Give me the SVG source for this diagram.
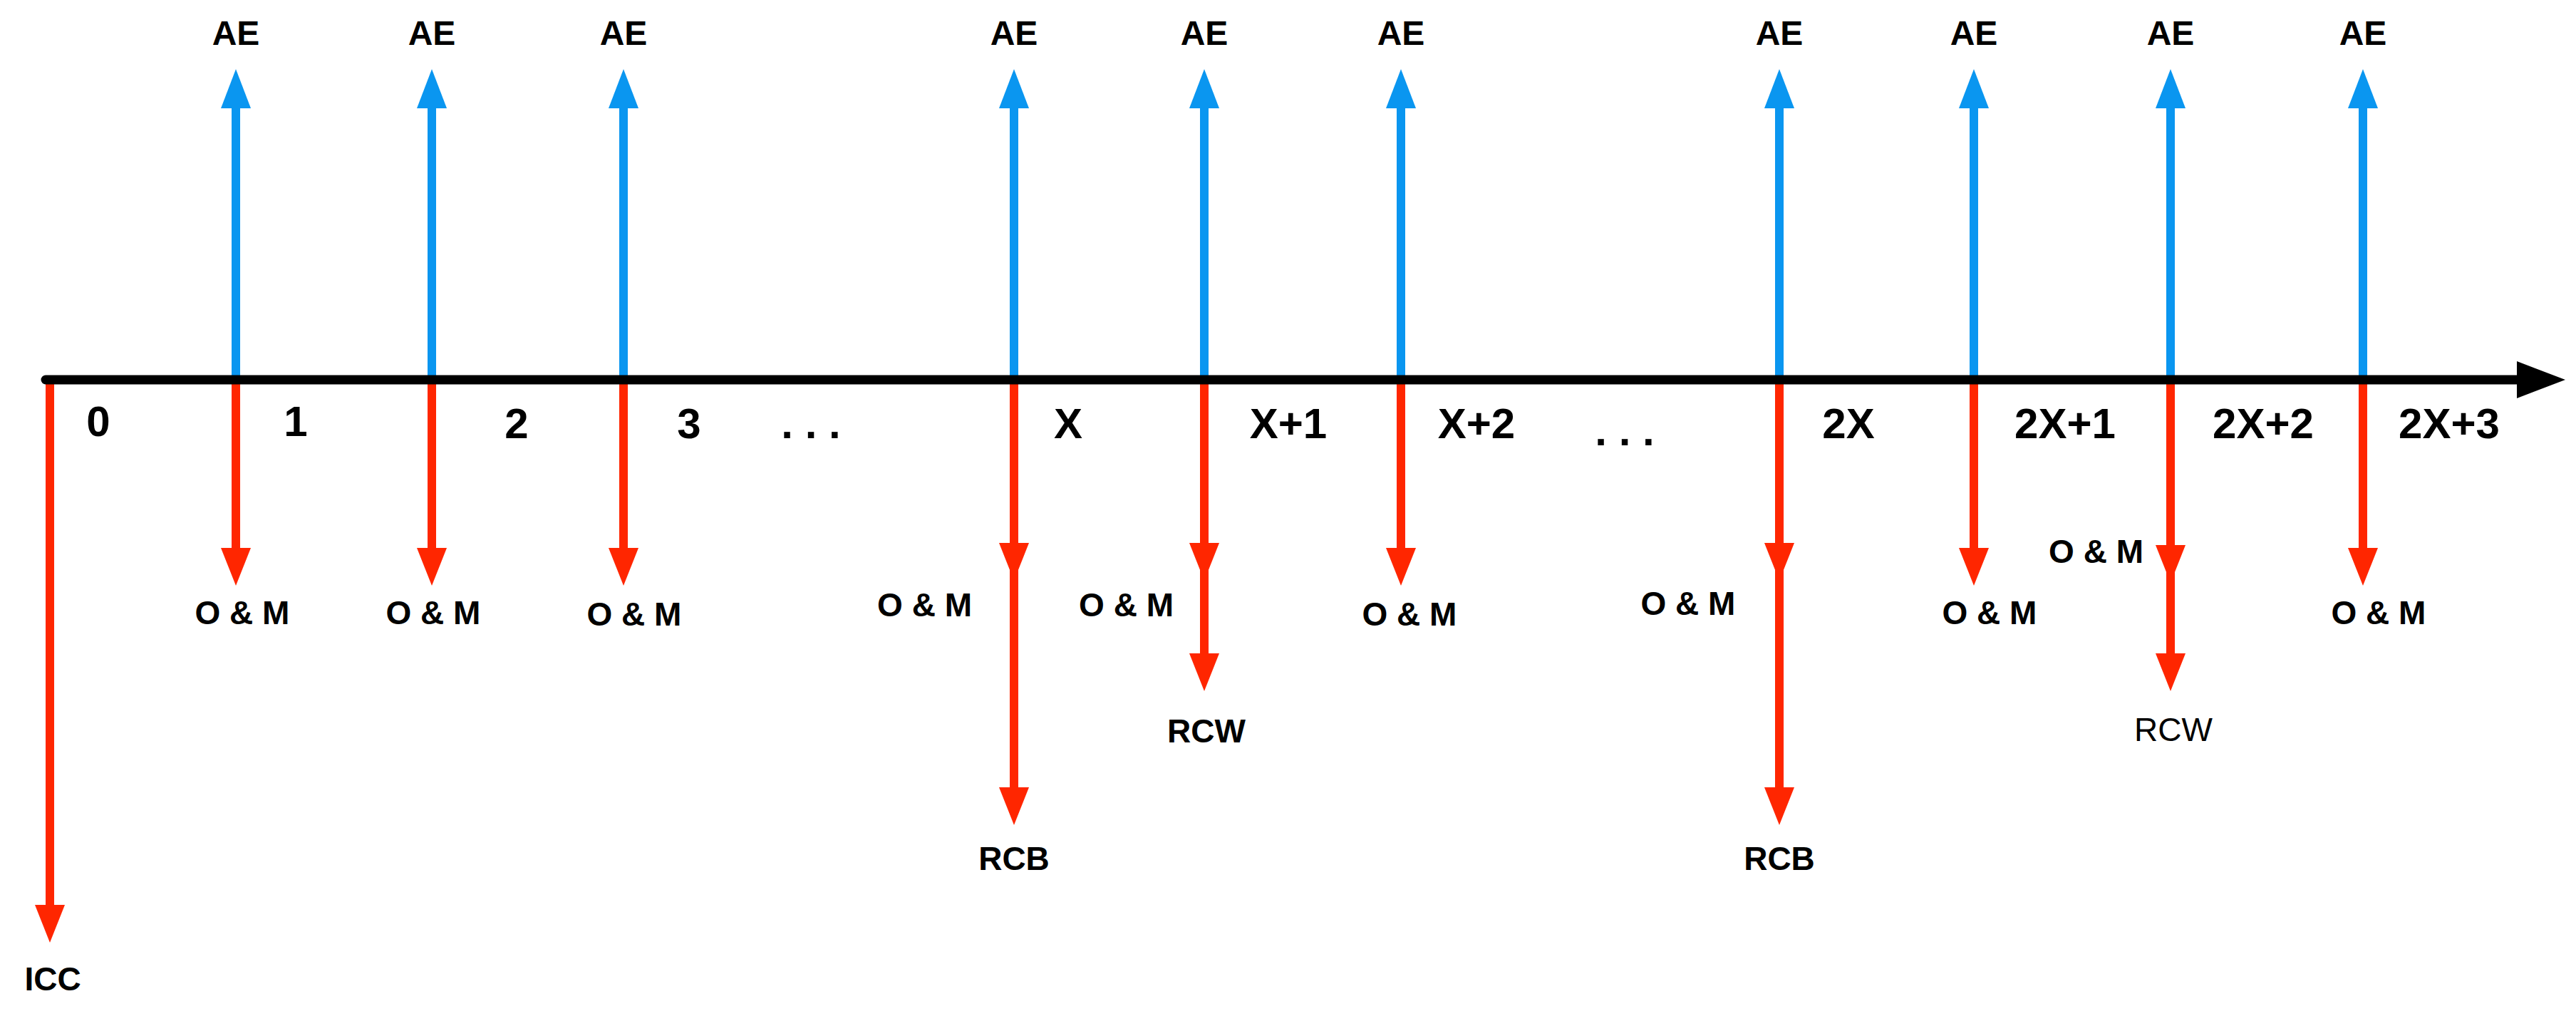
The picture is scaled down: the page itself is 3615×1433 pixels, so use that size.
<svg xmlns="http://www.w3.org/2000/svg" width="3615" height="1433" viewBox="0 0 3615 1433">
<style>
.t{font-family:"Liberation Sans",Arial,sans-serif;font-weight:bold;fill:#000}
.ae{font-size:48px;text-anchor:middle}
.om{font-size:46px}
.ax{font-size:60px;text-anchor:middle}
.r{stroke:#FF2600;stroke-width:12;fill:none}
.b{stroke:#0A96F0;stroke-width:12;fill:none}
.rh{fill:#FF2600}
.bh{fill:#0A96F0}
</style>
<defs>
<polygon id="up" points="-21,0 21,0 0,-55"/>
<polygon id="dn" points="-21,0 21,0 0,53"/>
</defs>
<rect width="3615" height="1433" fill="#fff"/>
<g id="connectors">
<!-- blue AE arrows -->
<g>
<line class="b" x1="331" y1="533" x2="331" y2="148"/>
<line class="b" x1="606" y1="533" x2="606" y2="148"/>
<line class="b" x1="875" y1="533" x2="875" y2="148"/>
<line class="b" x1="1423" y1="533" x2="1423" y2="148"/>
<line class="b" x1="1690" y1="533" x2="1690" y2="148"/>
<line class="b" x1="1966" y1="533" x2="1966" y2="148"/>
<line class="b" x1="2497" y1="533" x2="2497" y2="148"/>
<line class="b" x1="2770" y1="533" x2="2770" y2="148"/>
<line class="b" x1="3046" y1="533" x2="3046" y2="148"/>
<line class="b" x1="3316" y1="533" x2="3316" y2="148"/>
<use href="#up" class="bh" x="331" y="152"/>
<use href="#up" class="bh" x="606" y="152"/>
<use href="#up" class="bh" x="875" y="152"/>
<use href="#up" class="bh" x="1423" y="152"/>
<use href="#up" class="bh" x="1690" y="152"/>
<use href="#up" class="bh" x="1966" y="152"/>
<use href="#up" class="bh" x="2497" y="152"/>
<use href="#up" class="bh" x="2770" y="152"/>
<use href="#up" class="bh" x="3046" y="152"/>
<use href="#up" class="bh" x="3316" y="152"/>
</g>
<!-- red arrows -->
<g>
<line class="r" x1="70" y1="533" x2="70" y2="1275"/>
<use href="#dn" class="rh" x="70" y="1270"/>
<line class="r" x1="331" y1="533" x2="331" y2="772"/>
<use href="#dn" class="rh" x="331" y="769"/>
<line class="r" x1="606" y1="533" x2="606" y2="772"/>
<use href="#dn" class="rh" x="606" y="769"/>
<line class="r" x1="875" y1="533" x2="875" y2="772"/>
<use href="#dn" class="rh" x="875" y="769"/>
<line class="r" x1="1423" y1="533" x2="1423" y2="1108"/>
<use href="#dn" class="rh" x="1423" y="762"/>
<use href="#dn" class="rh" x="1423" y="1105"/>
<line class="r" x1="1690" y1="533" x2="1690" y2="920"/>
<use href="#dn" class="rh" x="1690" y="762"/>
<use href="#dn" class="rh" x="1690" y="917"/>
<line class="r" x1="1966" y1="533" x2="1966" y2="772"/>
<use href="#dn" class="rh" x="1966" y="769"/>
<line class="r" x1="2497" y1="533" x2="2497" y2="1108"/>
<use href="#dn" class="rh" x="2497" y="762"/>
<use href="#dn" class="rh" x="2497" y="1105"/>
<line class="r" x1="2770" y1="533" x2="2770" y2="772"/>
<use href="#dn" class="rh" x="2770" y="769"/>
<line class="r" x1="3046" y1="533" x2="3046" y2="920"/>
<use href="#dn" class="rh" x="3046" y="765"/>
<use href="#dn" class="rh" x="3046" y="917"/>
<line class="r" x1="3316" y1="533" x2="3316" y2="772"/>
<use href="#dn" class="rh" x="3316" y="769"/>
</g>
<!-- time axis -->
<g>
<line x1="64" y1="533" x2="3540" y2="533" stroke="#000" stroke-width="13" stroke-linecap="round"/>
<polygon points="3532,507 3600,533 3532,559" fill="#000"/>
</g>
</g>
<g id="ae-labels" class="t ae">
<text x="331" y="63">AE</text>
<text x="606" y="63">AE</text>
<text x="875" y="63">AE</text>
<text x="1423" y="63">AE</text>
<text x="1690" y="63">AE</text>
<text x="1966" y="63">AE</text>
<text x="2497" y="63">AE</text>
<text x="2770" y="63">AE</text>
<text x="3046" y="63">AE</text>
<text x="3316" y="63">AE</text>
</g>
<g id="axis-labels" class="t ax">
<text x="138" y="612">0</text>
<text x="415" y="612">1</text>
<text x="725" y="615">2</text>
<text x="967" y="615">3</text>
<text x="1138" y="615">. . .</text>
<text x="1499" y="615">X</text>
<text x="1808" y="615">X+1</text>
<text x="2072" y="615">X+2</text>
<text x="2280" y="625">. . .</text>
<text x="2594" y="615">2X</text>
<text x="2898" y="615">2X+1</text>
<text x="3176" y="615">2X+2</text>
<text x="3437" y="615">2X+3</text>
</g>
<g id="cost-labels" class="t om">
<text x="340" y="876" text-anchor="middle">O &amp; M</text>
<text x="608" y="876" text-anchor="middle">O &amp; M</text>
<text x="890" y="878" text-anchor="middle">O &amp; M</text>
<text x="1364" y="865" text-anchor="end">O &amp; M</text>
<text x="1647" y="865" text-anchor="end">O &amp; M</text>
<text x="1978" y="878" text-anchor="middle">O &amp; M</text>
<text x="2369" y="863" text-anchor="middle">O &amp; M</text>
<text x="2792" y="876" text-anchor="middle">O &amp; M</text>
<text x="3008" y="790" text-anchor="end">O &amp; M</text>
<text x="3338" y="876" text-anchor="middle">O &amp; M</text>
<text x="74" y="1390" text-anchor="middle">ICC</text>
<text x="1423" y="1221" text-anchor="middle">RCB</text>
<text x="1693" y="1042" text-anchor="middle">RCW</text>
<text x="2497" y="1221" text-anchor="middle">RCB</text>
<text x="3050" y="1040" text-anchor="middle" font-weight="normal">RCW</text>
</g>
</svg>
